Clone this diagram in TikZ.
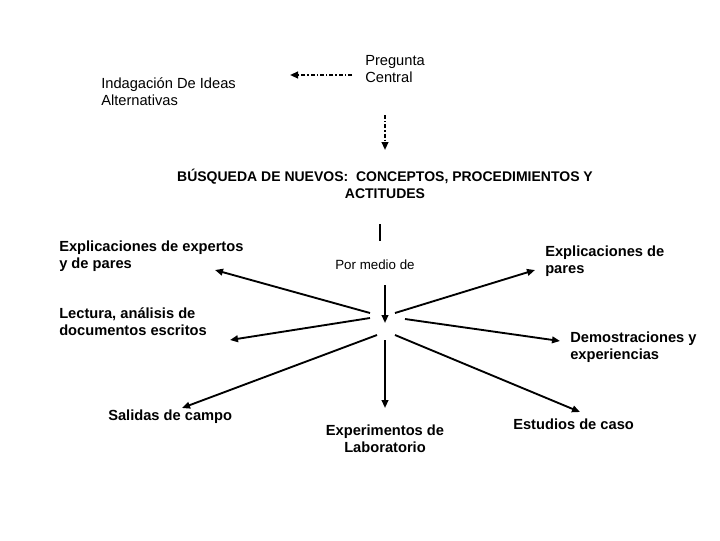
\documentclass[tikz,border=0pt]{standalone}
\usepackage{fontspec}
\setmainfont{Liberation Sans}
\usetikzlibrary{arrows.meta}
\tikzset{
  lbl/.style={inner sep=0pt, align=left, font=\fontsize{11}{12.75}\selectfont},
  blbl/.style={inner sep=0pt, align=left, font=\fontsize{11}{12.75}\selectfont\bfseries},
  arr/.style={line width=1.4pt, -{Triangle[length=6pt,width=5pt]}},
  darr/.style={line width=1.4pt, dash pattern=on 3pt off 1.5pt on 1pt off 1.5pt, -{Triangle[length=6pt,width=5pt]}},
}
\begin{document}
\begin{tikzpicture}[x=0.75pt,y=-0.75pt]
\useasboundingbox (0,0) rectangle (720,540);
% text nodes
\node[lbl, anchor=west] (indag) at (101,92) {Indagación De Ideas\\Alternativas};
\node[lbl, anchor=west] (preg) at (365,69) {Pregunta\\Central};
\node[blbl, align=center, font=\fontsize{10.5}{12.75}\selectfont\bfseries] (title) at (385,183.5) {BÚSQUEDA DE NUEVOS:\ \ CONCEPTOS, PROCEDIMIENTOS Y\\ACTITUDES};
\node[lbl, font=\fontsize{10}{12}\selectfont] (medio) at (375,265) {Por medio de};
\node[blbl, anchor=west] (expert) at (59,256) {Explicaciones de expertos\\y de pares};
\node[blbl, anchor=west] (lect) at (59,321.5) {Lectura, análisis de\\documentos escritos};
\node[blbl, anchor=west] (salid) at (108,417) {Salidas de campo};
\node[blbl, align=center] (exper) at (385,438.5) {Experimentos de\\Laboratorio};
\node[blbl, anchor=west] (estud) at (513,424) {Estudios de caso};
\node[blbl, anchor=west] (demo) at (570,347.5) {Demostraciones y\\experiencias};
\node[blbl, anchor=west] (pares) at (545,261.5) {Explicaciones de\\pares};
% coordinates
\coordinate (pgL) at (352,75);
\coordinate (pgT) at (290,75);
\coordinate (pgD) at (385,115);
\coordinate (pgDt) at (385,150);
\coordinate (l1) at (380,224);
\coordinate (l2) at (380,241);
\coordinate (md1) at (385,285);
\coordinate (md2) at (385,323);
\coordinate (s1) at (370,313);  \coordinate (t1) at (215,270);
\coordinate (s2) at (370,318);  \coordinate (t2) at (230,340);
\coordinate (s3) at (377,335);  \coordinate (t3) at (182,408);
\coordinate (s4) at (385,340);  \coordinate (t4) at (385,408);
\coordinate (s5) at (395,335);  \coordinate (t5) at (580,412);
\coordinate (s6) at (405,319);  \coordinate (t6) at (560,341);
\coordinate (s7) at (395,313);  \coordinate (t7) at (535,270);
% connectors
\draw[darr] (pgL) -- (pgT);
\draw[darr] (pgD) -- (pgDt);
\draw[line width=0.8pt] (l1) -- (l2);
\draw[arr] (md1) -- (md2);
\draw[arr] (s1) -- (t1);
\draw[arr] (s2) -- (t2);
\draw[arr] (s3) -- (t3);
\draw[arr] (s4) -- (t4);
\draw[arr] (s5) -- (t5);
\draw[arr] (s6) -- (t6);
\draw[arr] (s7) -- (t7);
\end{tikzpicture}
\end{document}
